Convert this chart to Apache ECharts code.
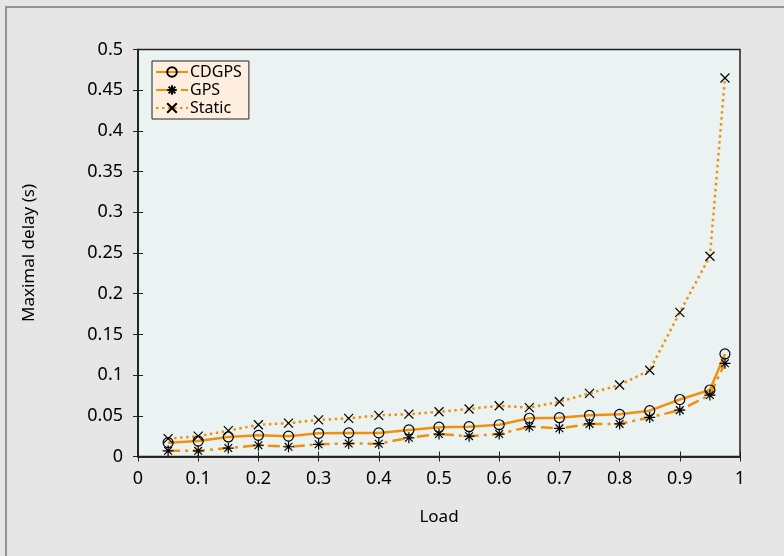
<!DOCTYPE html>
<html><head><meta charset="utf-8">
<script src="https://cdn.jsdelivr.net/npm/echarts@6/dist/echarts.min.js"></script>
<style>html,body{margin:0;padding:0;background:#e6e6e6}#c{width:784px;height:556px}</style>
</head><body><div id="c"></div>
<script>
var loads = [0.05,0.1,0.15,0.2,0.25,0.3,0.35,0.4,0.45,0.5,0.55,0.6,0.65,0.7,0.75,0.8,0.85,0.9,0.95,0.975];
var cdgps = [0.017,0.019,0.024,0.026,0.025,0.0285,0.029,0.029,0.0326,0.036,0.0366,0.039,0.047,0.0477,0.0506,0.0518,0.0563,0.070,0.0817,0.126];
var gps = [0.007,0.007,0.0104,0.0138,0.012,0.015,0.016,0.0157,0.023,0.0276,0.025,0.0276,0.0366,0.0346,0.040,0.040,0.048,0.057,0.0755,0.1145];
var stat = [0.022,0.025,0.0317,0.039,0.041,0.045,0.0468,0.0506,0.052,0.055,0.0583,0.0624,0.060,0.0673,0.0776,0.0878,0.106,0.177,0.246,0.465];
var names = ['CDGPS','GPS','Static'];

function pairs(v){ return loads.map(function(x,i){return [x,v[i]];}); }
var orange = '#f0910c';
var font = '"Noto Sans", "Open Sans", sans-serif';
var chart = echarts.init(document.getElementById('c'), null, {renderer:'canvas'});
var markerStyle = {color:'none', borderColor:'#000', borderWidth:1.2};
chart.setOption({
  backgroundColor:'#e6e6e6',
  animation:false,
  textStyle:{fontFamily:font},
  graphic:[{type:'rect', shape:{x:6,y:7,width:900,height:700}, style:{fill:'none', stroke:'#7a7a7a', lineWidth:1.5}, z:-1}],
  grid:{left:138, right:44, top:49.5, bottom:99.5, show:true, backgroundColor:'#eaf2f2', borderColor:'#222', borderWidth:1.5},
  legend:{
    left:152, top:61, orient:'vertical', itemWidth:32, itemHeight:12, itemGap:2,
    padding:[3,7,3,3], backgroundColor:'#fdeedf', borderColor:'#222', borderWidth:1, borderRadius:0,
    textStyle:{fontFamily:font, fontSize:16, color:'#000', padding:[0,0,0,-3]},
    data:names
  },
  xAxis:[
    {type:'value', min:0, max:1, interval:0.1, name:'Load', nameLocation:'middle', nameGap:52,
     nameTextStyle:{fontSize:17, color:'#000', fontFamily:font},
     axisLine:{lineStyle:{color:'#222', width:1.5}}, axisTick:{inside:true, length:5, lineStyle:{color:'#222'}},
     axisLabel:{fontSize:18, color:'#000', margin:13, fontFamily:font}, splitLine:{show:false}},
    {type:'value', min:0, max:1, interval:0.1, position:'top',
     axisLine:{lineStyle:{color:'#222', width:1.5}}, axisTick:{inside:true, length:5, lineStyle:{color:'#222'}},
     axisLabel:{show:false}, splitLine:{show:false}}
  ],
  yAxis:[
    {type:'value', min:0, max:0.5, interval:0.05, name:'Maximal delay (s)', nameLocation:'middle', nameGap:100,
     nameTextStyle:{fontSize:17, color:'#000', fontFamily:font},
     axisLine:{lineStyle:{color:'#222', width:1.5}}, axisTick:{inside:true, length:5, lineStyle:{color:'#222'}},
     axisLabel:{fontSize:18, color:'#000', margin:15, fontFamily:font}, splitLine:{show:false}},
    {type:'value', min:0, max:0.5, interval:0.05, position:'right',
     axisLine:{lineStyle:{color:'#222', width:1.5}}, axisTick:{inside:true, length:5, lineStyle:{color:'#222'}},
     axisLabel:{show:false}, splitLine:{show:false}}
  ],
  series:[
    {name:names[0], type:'line', data:pairs(cdgps), symbol:'circle', symbolSize:10, showAllSymbol:true,
     lineStyle:{color:orange, width:2.5, type:'solid'}, itemStyle:{color:'none', borderColor:'#000', borderWidth:1.2}, z:3},
    {name:names[1], type:'line', data:pairs(gps), symbol:'path://M5,0L5,10M0,5L10,5M1.5,1.5L8.5,8.5M8.5,1.5L1.5,8.5', symbolSize:11, showAllSymbol:true,
     lineStyle:{color:orange, width:2.5, type:[12,5,3,5]}, itemStyle:markerStyle, z:3},
    {name:names[2], type:'line', data:pairs(stat), symbol:'path://M0,0L10,10M10,0L0,10', symbolSize:9, showAllSymbol:true,
     lineStyle:{color:orange, width:2.5, type:[2.5,3.5]}, itemStyle:markerStyle, z:3}
  ]
});
</script></body></html>
